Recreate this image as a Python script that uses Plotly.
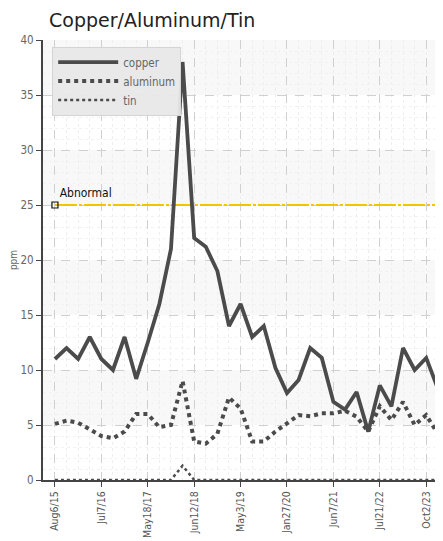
import plotly.graph_objects as go

TITLE = "Copper/Aluminum/Tin"
TICK_LABELS = ["Aug6/15", "Jul7/16", "May18/17", "Jun12/18", "May3/19",
               "Jan27/20", "Jun7/21", "Jul21/22", "Oct2/23"]
TICK_EVERY = 4

copper = [11, 12, 11, 13, 11, 10, 13, 9.2, 12.5, 16, 21, 38, 22, 21.2, 19, 14,
          16, 13, 14, 10.2, 7.9, 9.1, 12, 11.1, 7.1, 6.4, 8, 4.4, 8.6, 6.7,
          12, 10, 11.1, 8.3]
aluminum = [5.1, 5.4, 5.2, 4.6, 4.0, 3.8, 4.4, 6.0, 6.0, 4.8, 5.0, 9, 3.5, 3.3,
            4.2, 7.5, 6.5, 3.5, 3.5, 4.4, 5.15, 5.9, 5.8, 6.06, 6.06, 6.3, 5.75,
            4.4, 6.7, 5.45, 7.1, 5.0, 5.9, 4.2]
tin = [0, 0, 0, 0, 0, 0, 0, 0, 0, 0, 0, 1.3, 0, 0, 0, 0, 0, 0, 0, 0, 0, 0, 0,
       0, 0, 0, 0, 0, 0, 0, 0, 0, 0, 0]
ABNORMAL = 25
ABNORMAL_LABEL = "Abnormal"

x = list(range(len(copper)))
tickvals = x[::TICK_EVERY]

LINE_COLOR = "#4b4b4b"
NARROW = "Liberation Sans Narrow, DejaVu Sans Condensed, Arial Narrow, sans-serif"
PAGE_OFFSET = 8  # browser default body margin
W, H = 443 - PAGE_OFFSET, 541 - PAGE_OFFSET

fig = go.Figure()

# subtle background bands
for lo in range(0, 40, 5):
    if (lo // 5) % 2 == 1:
        fig.add_shape(type="rect", xref="paper", yref="y", x0=0, x1=1, y0=lo, y1=lo + 5,
                      fillcolor="#f8f8f8", line_width=0, layer="below")

fig.add_trace(go.Scatter(x=x, y=[ABNORMAL] * len(x), mode="lines",
                         line=dict(color="#f5c400", width=2, dash="22px,2px,3px,2px"),
                         showlegend=False, hoverinfo="skip"))
fig.add_trace(go.Scatter(x=[x[0]], y=[ABNORMAL], mode="markers+text",
                         marker=dict(symbol="square-open", size=6, color="#111",
                                     line=dict(width=1.2, color="#111")),
                         text=[ABNORMAL_LABEL], textposition="top right",
                         textfont=dict(family=NARROW, size=12, color="#111"),
                         showlegend=False, hoverinfo="skip"))

fig.add_trace(go.Scatter(x=x, y=copper, name="copper", mode="lines",
                         line=dict(color=LINE_COLOR, width=3.8)))
fig.add_trace(go.Scatter(x=x, y=aluminum, name="aluminum", mode="lines",
                         line=dict(color=LINE_COLOR, width=4, dash="dot")))
fig.add_trace(go.Scatter(x=x, y=tin, name="tin", mode="lines",
                         line=dict(color=LINE_COLOR, width=2.5, dash="dot")))

fig.update_layout(
    width=W, height=H,
    margin=dict(l=43 - PAGE_OFFSET, r=1, t=40 - PAGE_OFFSET, b=H - (480 - PAGE_OFFSET)),
    paper_bgcolor="white", plot_bgcolor="white",
    title=dict(text=TITLE, x=(49 - PAGE_OFFSET) / W, xanchor="left", xref="container",
               y=1 - (20 - PAGE_OFFSET) / H, yanchor="middle", pad=dict(l=0, r=0, t=0, b=0),
               font=dict(family="DejaVu Sans", size=19, color="#222")),
    showlegend=True,
    legend=dict(x=0.023, y=0.985, xanchor="left", yanchor="top",
                bgcolor="rgba(232,232,232,0.95)", bordercolor="#d4d4d4", borderwidth=1,
                font=dict(family=NARROW, size=11.5, color="#666"),
                itemwidth=60, tracegroupgap=0),
    xaxis=dict(range=[-1.03, 33.36], tickmode="array", tickvals=tickvals, ticktext=TICK_LABELS,
               tickangle=-90, ticks="outside", ticklen=5, tickcolor="#444",
               showline=True, linecolor="#444", linewidth=2, automargin=False,
               showgrid=True, gridcolor="#d0d0d0", griddash="dash", gridwidth=1,
               minor=dict(tickmode="linear", tick0=0, dtick=1, showgrid=True,
                          gridcolor="#eeeeee", griddash="dot"),
               zeroline=False,
               tickfont=dict(family=NARROW, size=10.5, color="#555")),
    yaxis=dict(range=[0, 40], tickmode="linear", tick0=0, dtick=5,
               ticks="outside", ticklen=5, tickcolor="#444",
               showline=True, linecolor="#444", linewidth=2, automargin=False,
               showgrid=True, gridcolor="#d0d0d0", griddash="dash",
               minor=dict(tickmode="linear", dtick=1, showgrid=True,
                          gridcolor="#f2f2f2", griddash="dot"),
               zeroline=False,
               title=dict(text="ppm", standoff=10,
                          font=dict(family=NARROW, size=10, color="#666")),
               tickfont=dict(family=NARROW, size=11.5, color="#666")),
)

fig.write_html("out.html")
